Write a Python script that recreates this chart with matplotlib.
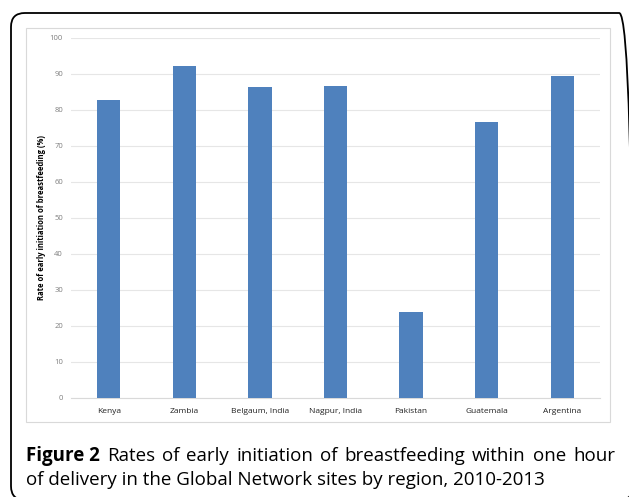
import matplotlib
matplotlib.use("Agg")
import matplotlib.pyplot as plt
from matplotlib.patches import FancyBboxPatch, Rectangle

categories = ["Kenya", "Zambia", "Belgaum, India", "Nagpur, India", "Pakistan", "Guatemala", "Argentina"]
values = [82.9, 92.3, 86.3, 86.8, 23.8, 76.6, 89.4]
yticks = [0, 10, 20, 30, 40, 50, 60, 70, 80, 90, 100]
ylabel = "Rate of early initiation of breastfeeding (%)"
caption_bold = "Figure 2"
caption_line1 = "Rates of early initiation of breastfeeding within one hour"
caption_line2 = "of delivery in the Global Network sites by region, 2010-2013"

W, H = 629, 497
fig = plt.figure(figsize=(W / 100, H / 100), dpi=100)
fig.patch.set_facecolor("white")

def px(x, y):
    return x / W, 1 - y / H

# outer rounded frame
frame = FancyBboxPatch((11 / W, 1 - 500 / H), 622 / W, 487 / H,
                       boxstyle="round,pad=0,rounding_size=0.022",
                       transform=fig.transFigure, fill=False,
                       edgecolor="black", linewidth=1.3, mutation_aspect=W / H)
fig.patches.append(frame)

# chart area box
fig.patches.append(Rectangle((26 / W, 1 - 422 / H), 584 / W, 394 / H,
                             transform=fig.transFigure, fill=False,
                             edgecolor="#d9d9d9", linewidth=0.8))

ax = fig.add_axes([71 / W, 1 - 398 / H, 529 / W, 360 / H])
x = range(len(categories))
ax.bar(x, values, width=0.31, color="#4f81bd", zorder=3)
ax.set_xlim(-0.5, len(categories) - 0.5)
ax.set_ylim(0, 100)
ax.set_yticks(yticks)
ax.set_yticklabels([str(t) for t in yticks], fontsize=5.5, color="#7f7f7f",
                   family="Open Sans")
ax.set_xticks(list(x))
ax.set_xticklabels(categories, fontsize=6, color="#222222", family="Open Sans")
ax.tick_params(axis="both", length=0)
ax.tick_params(axis="y", pad=5.8)
ax.tick_params(axis="x", pad=7)
ax.grid(axis="y", color="#e6e6e6", linewidth=0.8, zorder=0)
for s in ["top", "right", "left"]:
    ax.spines[s].set_visible(False)
ax.spines["bottom"].set_color("#d9d9d9")
ax.spines["bottom"].set_linewidth(0.8)
ax.set_ylabel(ylabel, fontsize=5.5, fontweight="bold", family="Open Sans",
              color="black", labelpad=3)

# caption, first line justified
fig.canvas.draw()
renderer = fig.canvas.get_renderer()
fs = 13.5
left_px, right_px = 26, 615
base1, base2 = 461, 485
words = [(caption_bold, "bold")] + [(w, "normal") for w in caption_line1.split()]
texts = []
total = 0
for w, wt in words:
    t = fig.text(0, 0, w, fontsize=fs, fontweight=wt, family="Open Sans",
                 color="black", va="baseline", ha="left")
    bb = t.get_window_extent(renderer)
    texts.append((t, bb.width))
    total += bb.width
gap = (right_px - left_px - total) / (len(words) - 1)
cur = left_px
for t, w in texts:
    t.set_position(px(cur, base1))
    cur += w + gap
fig.text(*px(left_px, base2), caption_line2, fontsize=fs, family="Open Sans",
         color="black", va="baseline", ha="left")

fig.savefig("out.png", dpi=100, facecolor="white")
